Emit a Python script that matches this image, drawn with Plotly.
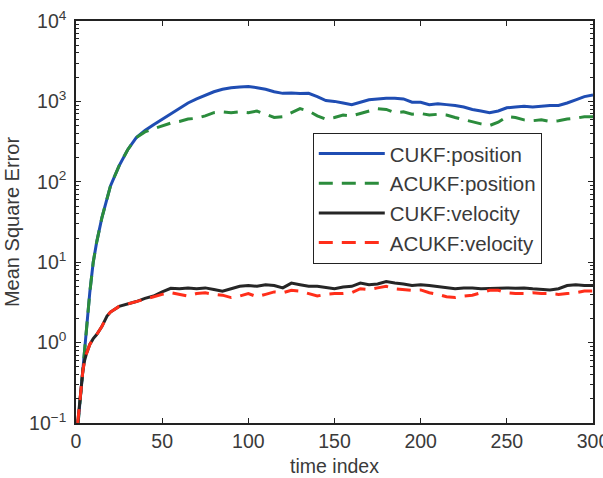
import plotly.graph_objects as go

time_index = [1, 2, 3, 4, 5, 6, 8, 10, 12, 15, 18,
              20, 25, 30, 35, 40, 45, 50, 55, 60, 65, 70, 75, 80, 85, 90, 95, 100,
              105, 110, 115, 120, 125, 130, 135, 140, 145, 150, 155, 160, 165, 170,
              175, 180, 185, 190, 195, 200, 205, 210, 215, 220, 225, 230, 235, 240,
              245, 250, 255, 260, 265, 270, 275, 280, 285, 290, 295, 300]

cukf_position = [0.089, 0.158, 0.28, 0.5, 0.89, 1.58, 4.2, 10, 17.8, 35.5, 63,
                 89, 158, 251, 355, 436, 513, 603, 708, 832, 955, 1072, 1202, 1318, 1413, 1479, 1514, 1531,
                 1479, 1413, 1318, 1259, 1270, 1250, 1259, 1148, 1023, 1000, 955, 912, 977, 1047,
                 1072, 1096, 1096, 1072, 977, 977, 912, 933, 912, 891, 851, 794, 759, 724,
                 759, 832, 851, 871, 851, 871, 891, 891, 955, 1047, 1148, 1202]

acukf_position = [0.089, 0.158, 0.28, 0.5, 0.89, 1.58, 4.2, 10, 17.8, 35.5, 63,
                  89, 158, 251, 355, 417, 457, 501, 537, 562, 603, 617, 661, 724, 741, 724, 741, 724,
                  759, 692, 631, 646, 724, 813, 759, 661, 603, 631, 676, 661, 708, 759,
                  813, 794, 724, 741, 692, 708, 676, 692, 676, 631, 589, 550, 525, 501,
                  550, 646, 631, 589, 575, 589, 562, 575, 603, 617, 646, 646]

cukf_velocity = [0.10, 0.178, 0.30, 0.45, 0.60, 0.72, 0.95, 1.12, 1.26, 1.58, 2.14,
                 2.40, 2.82, 3.02, 3.24, 3.55, 3.80, 4.27, 4.73, 4.68, 4.79, 4.68, 4.79, 4.57, 4.37, 4.68, 5.01, 5.13,
                 5.01, 5.25, 5.13, 4.79, 5.50, 5.25, 5.01, 5.01, 4.79, 4.68, 4.90, 5.01, 5.50, 5.25,
                 5.37, 5.75, 5.50, 5.37, 5.13, 5.25, 5.13, 5.01, 4.79, 4.68, 4.79, 4.79, 4.68, 4.73,
                 4.79, 4.79, 4.73, 4.79, 4.68, 4.57, 4.52, 4.68, 5.13, 5.25, 5.13, 5.13]

acukf_velocity = [0.10, 0.178, 0.30, 0.45, 0.60, 0.72, 0.95, 1.12, 1.26, 1.58, 2.14,
                  2.40, 2.82, 3.02, 3.24, 3.50, 3.70, 3.98, 4.17, 3.98, 3.80, 4.07, 4.17, 3.98, 3.89, 3.63, 3.80, 4.07,
                  3.72, 3.98, 4.27, 4.17, 4.47, 4.37, 4.07, 3.80, 3.98, 4.07, 4.07, 4.17, 4.68, 4.57,
                  4.79, 5.01, 4.68, 4.57, 4.47, 4.52, 4.17, 3.98, 3.72, 3.63, 3.80, 3.89, 4.17, 4.47,
                  4.47, 4.17, 4.07, 4.07, 4.17, 4.07, 4.07, 3.98, 4.07, 4.17, 4.37, 4.37]

series_names = ["CUKF:position", "ACUKF:position", "CUKF:velocity", "ACUKF:velocity"]
series_values = [cukf_position, acukf_position, cukf_velocity, acukf_velocity]
series_colors = ["#1f4db3", "#2b8c3c", "#262626", "#ff2e1a"]
series_dash = ["solid", "14px,9px", "solid", "14px,9px"]

x_ticks = [0, 50, 100, 150, 200, 250, 300]
y_tickvals = [0.1, 1, 10, 100, 1000, 10000]
y_ticktext = ["10<sup>\u22121</sup>", "10<sup>0</sup>", "10<sup>1</sup>",
              "10<sup>2</sup>", "10<sup>3</sup>", "10<sup>4</sup>"]

fig = go.Figure()
for name, vals, col, dash in zip(series_names, series_values, series_colors, series_dash):
    fig.add_trace(go.Scatter(x=time_index, y=vals, mode="lines", name=name,
                             line=dict(color=col, width=3, dash=dash)))

font_family = "Liberation Sans, Arial, sans-serif"
text_color = "#3a3a3a"
fig.update_layout(
    width=603, height=478,
    margin=dict(l=76, r=10, t=21, b=55),
    paper_bgcolor="white", plot_bgcolor="white",
    font=dict(family=font_family, size=19, color=text_color),
    showlegend=True,
    legend=dict(x=0.458, y=0.722, xanchor="left", yanchor="top",
                bgcolor="white", bordercolor="#222222", borderwidth=1,
                font=dict(size=20.5, color=text_color),
                tracegroupgap=0, itemwidth=66),
)
fig.update_xaxes(range=[0, 300], tickvals=x_ticks, ticks="inside", ticklen=5,
                 tickfont=dict(size=19.5), ticklabeloverflow="allow", automargin=False,
                 tickcolor="#222222", showline=True, linecolor="#222222", linewidth=1.5,
                 mirror="ticks", showgrid=False, zeroline=False,
                 title=dict(text="time index", font=dict(size=19.5, color=text_color), standoff=8))
fig.update_yaxes(type="log", range=[-1, 4], tickvals=y_tickvals, ticktext=y_ticktext,
                 tickfont=dict(size=19.5), automargin=False, ticklabelstandoff=4,
                 ticks="inside", ticklen=5, tickcolor="#222222",
                 minor=dict(ticks="inside", ticklen=3, tickcolor="#222222", dtick="D1", showgrid=False),
                 showline=True, linecolor="#222222", linewidth=1.5, mirror="ticks",
                 showgrid=False, zeroline=False,
                 title=dict(text="Mean Square Error", font=dict(size=20, color=text_color), standoff=4))

fig.write_html("out.html")
